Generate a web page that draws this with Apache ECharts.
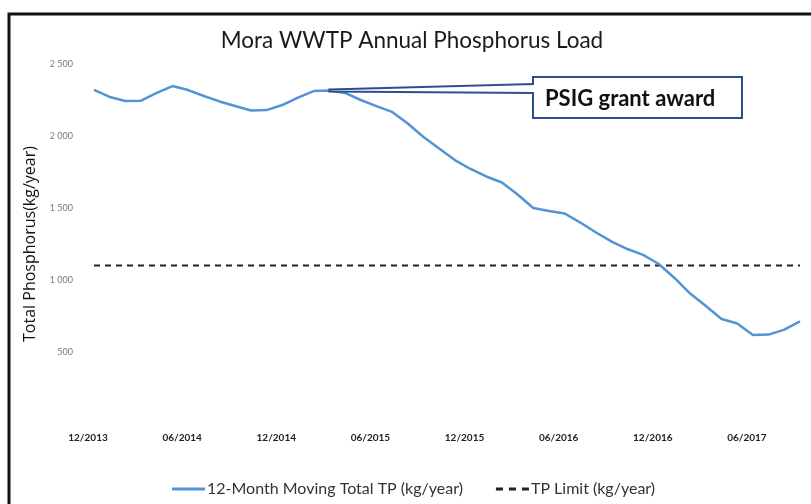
<!DOCTYPE html>
<html><head><meta charset="utf-8">
<script src="https://cdn.jsdelivr.net/npm/echarts@6/dist/echarts.min.js"></script>
<style>html,body{margin:0;padding:0;background:#fff}#c{width:811px;height:504px}</style>
</head><body><div id="c"></div>
<script>
const months = ["12/2013","01/2014","02/2014","03/2014","04/2014","05/2014","06/2014","07/2014","08/2014","09/2014","10/2014","11/2014",
"12/2014","01/2015","02/2015","03/2015","04/2015","05/2015","06/2015","07/2015","08/2015","09/2015","10/2015","11/2015",
"12/2015","01/2016","02/2016","03/2016","04/2016","05/2016","06/2016","07/2016","08/2016","09/2016","10/2016","11/2016",
"12/2016","01/2017","02/2017","03/2017","04/2017","05/2017","06/2017","07/2017","08/2017","09/2017"];
const movingTotalTP = [2320,2271,2243,2245,2299,2347,2319,2278,2240,2208,2177,2180,
2215,2267,2312,2316,2299,2250,2208,2167,2087,1993,1913,1833,
1771,1719,1677,1594,1500,1479,1462,1399,1330,1267,1215,1174,
1111,1014,906,819,729,698,618,621,655,712];
const tpLimit = [1100,1100,1100,1100,1100,1100,1100,1100,1100,1100,1100,1100,
1100,1100,1100,1100,1100,1100,1100,1100,1100,1100,1100,1100,
1100,1100,1100,1100,1100,1100,1100,1100,1100,1100,1100,1100,
1100,1100,1100,1100,1100,1100,1100,1100,1100,1100];
const yTicks = [0,500,1000,1500,2000,2500];
const seriesNames = ['12-Month Moving Total TP (kg/year)','TP Limit (kg/year)'];
const annotationText = "PSIG grant award";
const annotationIndex = 15;

const FONT = "Lato";
const BLUE = '#5294d4';
const chart = echarts.init(document.getElementById('c'), null, {renderer:'canvas'});
const option = {
  backgroundColor:'#fff',
  animation:false,
  title:{text:'Mora WWTP Annual Phosphorus Load', left:407, top:24, textAlign:'center',
    textStyle:{fontFamily:FONT, fontSize:22.5, fontWeight:'normal', color:'#1a1a1a'}},
  grid:{left:94, right:11, top:64, bottom:80, containLabel:false},
  legend:{bottom:2, left:167, itemWidth:33, itemHeight:3, itemGap:33,
    textStyle:{fontFamily:FONT, fontSize:16, color:'#333', padding:[0,0,0,-3]},
    data:[
      {name:seriesNames[0], icon:'rect', itemStyle:{color:BLUE}},
      {name:seriesNames[1], icon:'path://M0,0h7v3h-7z M13,0h7v3h-7z M26,0h7v3h-7z', itemStyle:{color:'#222'}}
    ]},
  xAxis:{type:'category', data:months, boundaryGap:false,
    axisLine:{show:false}, axisTick:{show:false}, splitLine:{show:false},
    axisLabel:{interval:5, margin:9, padding:[0,12,0,0], fontFamily:FONT, fontSize:10, fontWeight:'bold', color:'#222'}},
  yAxis:{type:'value', min:yTicks[0], max:yTicks[yTicks.length-1], interval:500,
    name:'Total Phosphorus(kg/year)', nameLocation:'middle', nameGap:51,
    nameTextStyle:{fontFamily:'Open Sans', fontSize:16, color:'#111'},
    axisLine:{show:false}, axisTick:{show:false}, splitLine:{show:false},
    axisLabel:{margin:21, fontFamily:FONT, fontSize:9, color:'#7a7a7a',
      formatter:v=> v===0 ? '' : (v>=1000 ? Math.floor(v/1000)+' '+String(v%1000).padStart(3,'0') : String(v))}},
  series:[
    {name:seriesNames[0], type:'line', data:movingTotalTP, symbol:'none',
      lineStyle:{color:BLUE, width:2.5}, itemStyle:{color:BLUE}, z:3},
    {name:seriesNames[1], type:'line', data:tpLimit, symbol:'none',
      lineStyle:{color:'#222', width:2, type:[6,5]}, itemStyle:{color:'#222'}, z:2}
  ]
};
chart.setOption(option);
const tip = chart.convertToPixel({seriesIndex:0}, [annotationIndex, movingTotalTP[annotationIndex]]);
const bx = 533, by = 77, bw = 209, bh = 41;
chart.setOption({graphic:[
  {type:'rect', shape:{x:9, y:14, width:900, height:600}, style:{fill:'none', stroke:'#111', lineWidth:3}, silent:true},
  {type:'polygon', shape:{points:[[tip[0],tip[1]-1],[bx,84],[bx,93],[tip[0],tip[1]+1]]},
    style:{fill:'#fff', stroke:'#2c4f8c', lineWidth:2}, z:10},
  {type:'rect', shape:{x:bx, y:by, width:bw, height:bh}, style:{fill:'#fff', stroke:'#2c4f8c', lineWidth:2}, z:11},
  {type:'rect', shape:{x:bx-1, y:85, width:4, height:7}, style:{fill:'#fff'}, z:12},
  {type:'text', x:bx+12, y:by+bh/2+1, style:{text:annotationText, fontFamily:FONT, fontSize:22, fontWeight:'bold', fill:'#111', align:'left', verticalAlign:'middle'}, z:13}
]});
</script></body></html>
